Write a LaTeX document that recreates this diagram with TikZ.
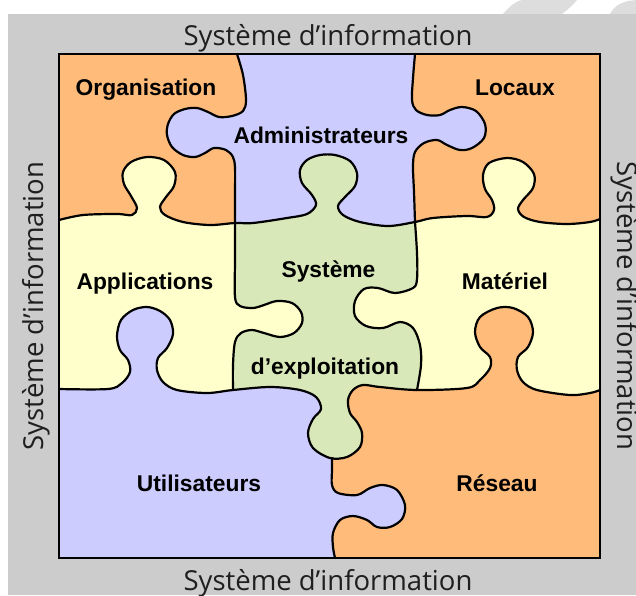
\documentclass[tikz,border=0pt]{standalone}
\usepackage{fontspec}
\setmainfont{Liberation Sans}
\newfontfamily\framefont{Open Sans}
\begin{document}
\begin{tikzpicture}[x=1pt,y=-1pt]
\definecolor{framegray}{HTML}{CCCCCC}
\definecolor{markgray}{HTML}{DDDDDD}
\definecolor{pieceorange}{HTML}{FFBB7A}
\definecolor{piecelilac}{HTML}{CCCCFF}
\definecolor{pieceyellow}{HTML}{FFFFCC}
\definecolor{piecegreen}{HTML}{D8E8B8}
\tikzset{
  seam/.style={line width=2.2pt, line join=round, line cap=round},
  piece label/.style={font=\bfseries\fontsize{22.8}{22.8}\selectfont, text=black, inner sep=0pt, anchor=base},
  frame label/.style={font=\framefont\fontsize{27.5}{27.5}\selectfont, text=black!88, inner sep=0pt, anchor=base},
}
% seams between the pieces, each a smooth curve through hand-placed points
\def\seamTop{plot[smooth,tension=0.55] coordinates {(59,220) (83,215) (117,214) (132,215) (137,208) (131,196) (124,184) (123,172) (131,162) (147,157) (164,160) (175,172) (174,186) (166,197) (160,207) (165,215) (183,222) (210,225) (235,223) (253,223) (287,218) (307,214) (316,205) (312,195) (302,183) (300,170) (307,160) (320,155) (335,155) (350,161) (357,173) (355,186) (345,197) (338,206) (343,215) (360,222) (388,226) (415,222) (433,218) (467,216) (487,217) (494,210) (492,200) (485,189) (483,175) (489,163) (507,158) (523,162) (534,174) (533,188) (523,200) (518,209) (524,217) (540,222) (567,224) (590,222) (600,219)}}
\def\seamMid{plot[smooth,tension=0.55] coordinates {(59,389) (108,389) (122,383) (130,372) (128,360) (120,350) (117,336) (121,320) (133,310) (147,307) (160,311) (170,320) (173,334) (167,348) (158,358) (157,370) (163,382) (177,390) (207,393) (233,390) (270,387) (300,390) (316,397) (321,409) (313,419) (308,433) (313,448) (330,458) (347,457) (360,447) (362,433) (357,422) (350,413) (348,400) (353,390) (363,385) (380,387) (417,390) (467,388) (480,380) (490,368) (490,357) (480,347) (475,332) (480,317) (497,308) (513,308) (528,317) (533,332) (528,347) (518,357) (517,370) (523,382) (537,390) (570,395) (590,393) (600,390)}}
\def\seamOrgAdm{plot[smooth,tension=0.55] coordinates {(237,54) (243,75) (246,100) (243,111) (232,116) (219,117) (208,112) (197,108) (185,109) (174,114) (168,124) (167,135) (172,147) (183,155) (195,157) (205,153) (214,148) (226,150) (233,157) (235,168) (235,195) (235,223)}}
\def\seamAdmLoc{plot[smooth,tension=0.55] coordinates {(415,54) (413,78) (412,100) (416,110) (427,115) (440,115) (450,110) (462,107) (476,111) (485,124) (484,138) (472,148) (460,150) (447,145) (437,140) (424,143) (415,152) (413,166) (414,192) (415,222)}}
\def\seamAppSys{plot[smooth,tension=0.55] coordinates {(235,223) (235,260) (235,297) (240,306) (253,308) (264,305) (277,301) (292,303) (301,312) (302,323) (294,333) (280,337) (264,333) (252,330) (241,333) (235,342) (233,365) (233,390)}}
\def\seamSysMat{plot[smooth,tension=0.55] coordinates {(415,222) (417,253) (417,279) (413,288) (395,293) (378,288) (364,289) (355,301) (355,316) (366,326) (383,328) (400,322) (413,328) (420,345) (421,365) (417,390)}}
\def\seamUtiRes{plot[smooth,tension=0.55] coordinates {(332,458) (332,470) (332,485) (338,493) (357,495) (370,488) (383,485) (397,490) (405,505) (402,519) (390,527) (377,527) (367,520) (353,516) (340,520) (333,533) (333,547) (335,558)}}

\useasboundingbox (0,0) rectangle (636,595);
\fill[white] (0,0) rectangle (636,595);
% faint marks in the white strip above the frame
\fill[markgray] (503,14) .. controls (510,6) and (516,1) .. (522,0) -- (577,0) .. controls (572,6) and (566,11) .. (562,14) -- cycle;
\fill[markgray] (610,14) .. controls (613,7) and (620,3) .. (628,1) -- (636,0) -- (636,14) -- cycle;
% grey frame
\fill[framegray] (8,14) rectangle (636,595);

% base colour: the two yellow pieces
\fill[pieceyellow] (59,54) rectangle (600,558);
% top band (Organisation, Locaux)
\fill[pieceorange] \seamTop -- (600,54) -- (59,54) -- cycle;
% Administrateurs
\begin{scope}
  \clip \seamTop -- (600,54) -- (59,54) -- cycle;
  \clip \seamOrgAdm -- (235,300) -- (700,300) -- (700,0) -- (237,0) -- cycle;
  \clip \seamAdmLoc -- (415,300) -- (0,300) -- (0,0) -- (415,0) -- cycle;
  \fill[piecelilac] (59,0) rectangle (600,300);
\end{scope}
% Systeme d'exploitation
\begin{scope}
  \clip \seamTop -- (600,600) -- (59,600) -- cycle;
  \clip \seamMid -- (600,0) -- (59,0) -- cycle;
  \clip \seamAppSys -- (233,600) -- (700,600) -- (700,0) -- (235,0) -- cycle;
  \clip \seamSysMat -- (417,600) -- (0,600) -- (0,0) -- (415,0) -- cycle;
  \fill[piecegreen] (59,0) rectangle (600,600);
\end{scope}
% bottom band: Utilisateurs, then Reseau
\fill[piecelilac] \seamMid -- (600,558) -- (59,558) -- cycle;
\begin{scope}
  \clip \seamMid -- (600,558) -- (59,558) -- cycle;
  \clip \seamUtiRes -- (335,600) -- (700,600) -- (700,300) -- (332,300) -- cycle;
  \fill[pieceorange] (59,300) rectangle (600,600);
\end{scope}

% seams
\draw[seam] \seamTop;
\draw[seam] \seamMid;
\draw[seam] \seamOrgAdm;
\draw[seam] \seamAdmLoc;
\draw[seam] \seamAppSys;
\draw[seam] \seamSysMat;
\draw[seam] \seamUtiRes;
% outer border of the puzzle
\draw[line width=2.6pt] (59,54) rectangle (600,558);

% piece names
\node[piece label] (org) at (146,95.5) {Organisation};
\node[piece label] (adm) at (321,143.5) {Administrateurs};
\node[piece label] (loc) at (515,95.5) {Locaux};
\node[piece label] (sys) at (328.5,277.5) {Système};
\node[piece label] (expl) at (325,374) {d’exploitation};
\node[piece label] (app) at (145,289.5) {Applications};
\node[piece label] (mat) at (505,289.5) {Matériel};
\node[piece label] (uti) at (199,491) {Utilisateurs};
\node[piece label] (res) at (497,491) {Réseau};

% frame captions
\node[frame label] (sitop) at (328,45) {Système d’information};
\node[frame label] (sibot) at (328,590) {Système d’information};
\node[frame label, rotate=90] (sileft) at (43,306) {Système d’information};
\node[frame label, rotate=-90] (siright) at (617,306) {Système d’information};
\end{tikzpicture}
\end{document}
